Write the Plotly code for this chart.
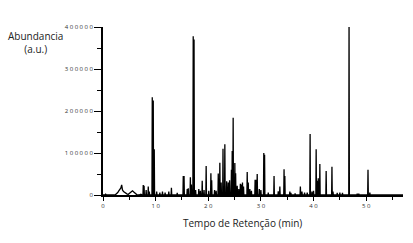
import plotly.graph_objects as go

# Broad early baseline features (retention time in min, abundance)
base_t = [0.0, 0.35, 0.5, 0.65, 2.3, 2.6, 2.8, 3.0, 3.2, 3.4, 3.55, 3.7, 3.9, 4.1, 4.3, 4.6, 4.8, 5.1, 5.35, 5.6, 5.85, 6.1, 6.4, 6.8, 7.2, 7.4]
base_v = [0, 0, 2000, 0, 0, 3000, 6000, 10000, 14000, 17000, 24000, 12000, 8000, 6000, 4000, 2000, 1500, 4000, 7000, 10000, 7000, 3000, 1000, 0, 2000, 0]

# Sharp peaks (retention time in min, abundance)
peak_t = [7.65, 7.8, 8.2, 8.6, 8.8, 9.36, 9.55, 9.74, 10.2, 10.8, 11.3, 11.8, 12.5, 13.0,
          14.1, 15.25, 15.4, 16.0, 16.2, 16.6, 16.8, 17.14, 17.3, 17.6, 18.2, 18.5, 18.85, 19.2, 19.6,
          20.1, 20.5, 20.65, 21.2, 21.5, 21.9, 22.2, 22.45, 22.8, 23.15, 23.5, 23.8, 24.05, 24.4, 24.55, 24.73,
          25.05, 25.2, 25.5, 25.8, 26.1, 26.3, 26.5, 26.7, 27.4, 27.6, 27.9, 28.2, 28.9, 29.05, 29.3, 29.7, 30.0,
          30.55, 30.7, 31.4, 32.5, 33.3, 33.6, 34.4, 34.55, 35.5, 35.7, 36.5, 37.5, 37.8, 38.3,
          38.8, 39.35, 39.7, 40.0, 40.5, 40.7, 40.9, 41.2, 42.4, 43.5, 43.7, 44.5, 45.0, 45.5,
          46.75, 48.3, 48.6, 50.35, 50.7]
peak_v = [24000, 22000, 12000, 20000, 8000, 233000, 225000, 109000, 8000, 6000, 8000, 6000, 8000, 17000,
          5000, 45000, 45000, 14000, 16000, 42000, 25000, 378000, 370000, 12000, 14000, 10000, 34000, 12000, 69000,
          10000, 52000, 35000, 12000, 10000, 51000, 77000, 30000, 110000, 121000, 33000, 30000, 35000, 60000, 105000, 184000,
          76000, 52000, 22000, 14000, 27000, 25000, 30000, 20000, 55000, 30000, 14000, 10000, 36000, 36000, 50000, 14000, 12000,
          100000, 96000, 6000, 45000, 9000, 20000, 61000, 45000, 8000, 5000, 4000, 20000, 8000, 6000,
          6000, 145000, 8000, 10000, 109000, 34000, 40000, 74000, 57000, 67000, 8000, 5000, 6000, 5000,
          420000, 3000, 3000, 60000, 6000]

# Axis tick labels
y_vals = [0, 100000, 200000, 300000, 400000]
y_text = ["0", "1 0 0 0 0 0", "2 0 0 0 0 0", "3 0 0 0 0 0", "4 0 0 0 0 0"]
x_vals = [0, 10, 20, 30, 40, 50]
x_text = ["0", "1 0", "2 0", "3 0", "4 0", "5 0"]

# Assemble the chromatogram trace: baseline features plus narrow spikes
pts = list(zip(base_t, base_v))
w = 0.06
for t, v in zip(peak_t, peak_v):
    pts += [(t - w, 0), (t, v), (t + w, 0)]
pts.append((57, 0))
pts.sort(key=lambda p: p[0])
xs = [p[0] for p in pts]
ys = [p[1] for p in pts]

fig = go.Figure()
fig.add_trace(go.Scatter(x=xs, y=ys, mode="lines", line=dict(color="black", width=1.3),
                         showlegend=False, hoverinfo="skip"))

fig.update_layout(
    width=413, height=243,
    margin=dict(l=103, r=10, t=27, b=48),
    plot_bgcolor="white", paper_bgcolor="white",
    font=dict(family="Open Sans", color="#222"),
)
fig.update_xaxes(
    range=[0, 57], showgrid=False, zeroline=False,
    showline=True, linecolor="black", linewidth=2,
    tickmode="array", tickvals=x_vals, ticktext=x_text,
    ticks="outside", ticklen=4, tickwidth=1.2, tickcolor="black",
    tickfont=dict(size=6, color="#333"),
    minor=dict(dtick=5, ticks="outside", ticklen=3, tickcolor="black", tickwidth=1.2),
)
fig.update_yaxes(
    range=[0, 400000], showgrid=False, zeroline=False,
    showline=True, linecolor="black", linewidth=1.5,
    tickmode="array", tickvals=y_vals, ticktext=y_text,
    ticks="outside", ticklen=7, tickwidth=1.2, tickcolor="black",
    tickfont=dict(size=6, color="#333"),
    minor=dict(dtick=50000, tick0=0, ticks="outside", ticklen=4, tickcolor="black", tickwidth=1.2),
)
fig.add_annotation(text="Abundancia<br>(a.u.)", xref="paper", yref="paper",
                   x=(35.5 - 103) / 300, y=(243 - 42 - 48) / 168,
                   showarrow=False, align="center", font=dict(size=10, color="#222"),
                   xanchor="center", yanchor="middle")
fig.add_annotation(text="Tempo de Retenção (min)", xref="paper", yref="paper",
                   x=(242 - 103) / 300, y=(243 - 223 - 48) / 168,
                   showarrow=False, font=dict(size=10, color="#222"),
                   xanchor="center", yanchor="middle")

fig.write_html("out.html")
